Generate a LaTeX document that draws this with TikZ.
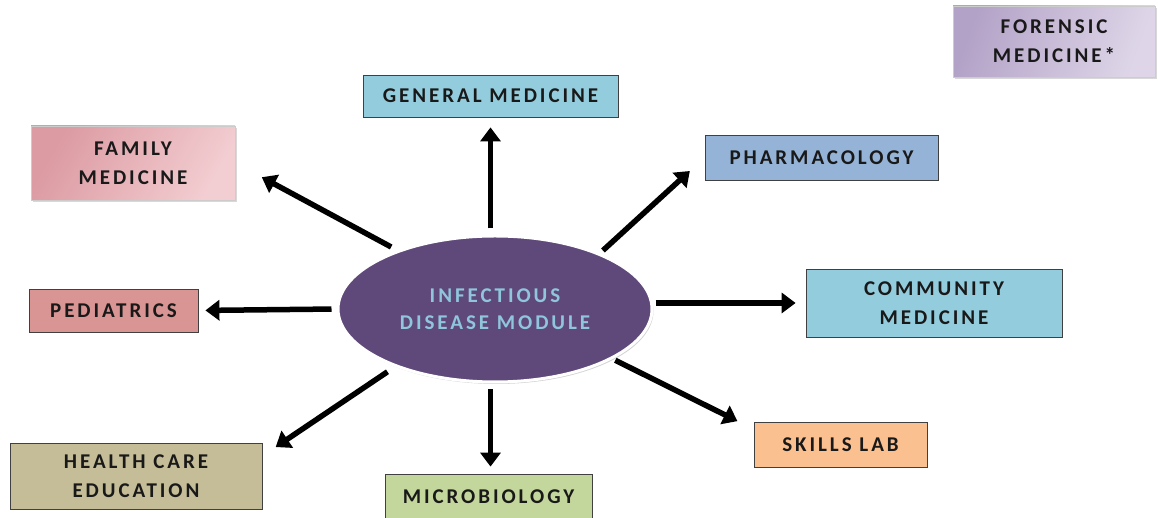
\documentclass[tikz,border=0pt]{standalone}
\usepackage{fontspec}
\usetikzlibrary{positioning,shapes.geometric,shadows,arrows.meta}
\newfontfamily\boxfont[LetterSpace=14]{Carlito}
\definecolor{gencol}{HTML}{93CDDD}
\definecolor{phacol}{HTML}{95B3D7}
\definecolor{skicol}{HTML}{FAC090}
\definecolor{miccol}{HTML}{C3D69B}
\definecolor{hcecol}{HTML}{C4BD97}
\definecolor{pedcol}{HTML}{D99594}
\definecolor{famdark}{HTML}{DC9AA2}
\definecolor{famlight}{HTML}{F2CDD1}
\definecolor{fordark}{HTML}{B3A2C7}
\definecolor{forlight}{HTML}{DED6E8}
\definecolor{idmcol}{HTML}{5F497A}
\definecolor{idmtext}{HTML}{8FC6DC}
\tikzset{box/.style={rectangle,draw=black!75,line width=0.8pt,inner sep=0pt,align=center,
	   font=\boxfont\bfseries\fontsize{21}{29}\selectfont,text=black!90},
	 sbox/.style={box,draw=gray!40,drop shadow={shadow xshift=2pt,shadow yshift=-2pt,fill=gray!60}},
	 core/.style={ellipse,fill=idmcol,draw=white,line width=3pt,inner sep=0pt,align=center,
	   minimum width=314pt,minimum height=146pt,text=idmtext,
	   drop shadow={shadow xshift=1.5pt,shadow yshift=-2pt,fill=gray!70},
	   font=\boxfont\bfseries\fontsize{21}{27}\selectfont},
	 link/.style={-{Triangle[length=14pt,width=20pt]},line width=5.5pt}
	 }
\begin{document}
\begin{tikzpicture}[x=1pt,y=1pt]% infectious disease module
        \useasboundingbox (0,0) rectangle (1158,518);
        \node[core] (idm) at (495,209) {INFECTIOUS\\DISEASE MODULE};
        \node[box,fill=gencol,minimum width=255pt,minimum height=42pt] (gen) at (490.5,422) {GENERAL MEDICINE};
        \node[sbox,left color=famdark,right color=famlight,shading angle=60,minimum width=204pt,minimum height=74pt] (fam) at (133,355) {FAMILY\\MEDICINE};
        \node[box,fill=phacol,minimum width=233pt,minimum height=45pt] (pha) at (821.5,360.5) {PHARMACOLOGY};
        \node[sbox,left color=fordark,right color=forlight,shading angle=70,minimum width=202pt,minimum height=71pt] (for) at (1054,476.5) {FORENSIC\\MEDICINE*};
        \node[box,fill=pedcol,minimum width=169pt,minimum height=43pt] (ped) at (113.5,207.5) {PEDIATRICS};
        \node[box,fill=gencol,minimum width=256pt,minimum height=68pt] (com) at (934,215) {COMMUNITY\\MEDICINE};
        \node[box,fill=skicol,minimum width=173pt,minimum height=45pt] (ski) at (840.5,73.5) {SKILLS LAB};
        \node[box,fill=hcecol,minimum width=252pt,minimum height=66pt] (hce) at (136,42) {HEALTH CARE\\EDUCATION};
        \node[box,fill=miccol,minimum width=207pt,minimum height=46pt] (mic) at (488.5,21) {MICROBIOLOGY};
        \draw[link,shorten <=6pt,shorten >=10pt] (idm.north -| gen.south) -- (gen.south);
        \draw[link,shorten <=6pt,shorten >=7pt] (idm.south -| gen.south) -- (mic.north -| gen.south);
        \draw[link,shorten <=5pt,shorten >=7pt] (idm.west) -- (ped.east);
        \draw[link,shorten <=2pt,shorten >=10pt] (idm.east |- com.west) -- (com.west);
        \draw[link,shorten <=7pt,shorten >=30pt] (idm.149) -- (fam.east);
        \draw[link,shorten <=4pt,shorten >=20pt] (idm.28) -- (pha.west);
        \draw[link,shorten <=9pt,shorten >=16pt] (idm.210) -- (hce.9);
        \draw[link,shorten <=3pt,shorten >=18pt] (idm.337) -- (ski.170);
\end{tikzpicture}
\end{document}
